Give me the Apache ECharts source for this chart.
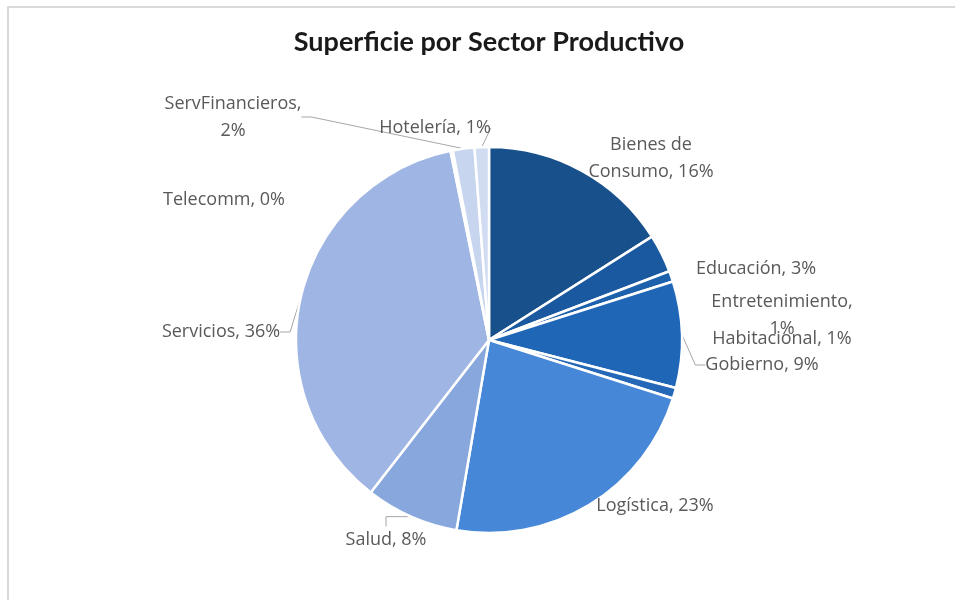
<!DOCTYPE html>
<html>
<head>
<meta charset="utf-8">
<script src="https://cdn.jsdelivr.net/npm/echarts@6/dist/echarts.min.js"></script>
<style>
html,body{margin:0;padding:0;background:#fff;}
#chart{width:955px;height:600px;}
</style>
</head>
<body>
<div id="chart"></div>
<script>
const titleText = 'Superficie por Sector Productivo';
const categories = ['Bienes de Consumo','Educación','Entretenimiento','Gobierno','Habitacional','Logística','Salud','Servicios','Telecomm','ServFinancieros','Hotelería'];
const values = [16.0, 3.2, 0.9, 8.9, 0.9, 22.8, 7.8, 36.3, 0.2, 1.8, 1.2];
const colors = ['#17508b','#1a599f','#1d60ab','#1f67b6','#2468b7','#4787d7','#88a8dd','#9fb5e3','#b9c9ea','#c8d5ef','#d1dcf2'];

const labelSpots = {
  'Bienes de Consumo': [651, 158],
  'Educación': [756, 269],
  'Entretenimiento': [782, 315],
  'Habitacional': [782, 339],
  'Gobierno': [762, 365],
  'Logística': [655, 506],
  'Salud': [386, 540],
  'Servicios': [221, 332],
  'Telecomm': [224, 200],
  'ServFinancieros': [233, 117],
  'Hotelería': [435, 128]
};
const withLine = ['ServFinancieros','Hotelería','Servicios','Salud','Gobierno'];
const breakAfter = {'Bienes de Consumo':'Bienes de','Entretenimiento':'Entretenimiento,','ServFinancieros':'ServFinancieros,'};

const data = categories.map((n,i)=>({
  name:n, value:values[i],
  itemStyle:{color:colors[i]},
  labelLine:{show: withLine.indexOf(n) >= 0}
}));

const chart = echarts.init(document.getElementById('chart'));
chart.setOption({
  animation:false,
  graphic:[{type:'rect', shape:{x:8,y:7,width:1000,height:700}, style:{fill:'none', stroke:'#d9d9d9', lineWidth:2}}],
  title:{text:titleText, left:484, top:24, textAlign:'center',
    textStyle:{fontFamily:'Lato', fontWeight:'bold', fontSize:27, color:'#1a1a1a'}},
  series:[{
    type:'pie',
    center:[489,340],
    radius:193,
    startAngle:90,
    clockwise:true,
    avoidLabelOverlap:false,
    data:data,
    itemStyle:{borderColor:'#ffffff', borderWidth:2.5},
    label:{
      show:true, position:'outside', color:'#595959',
      fontFamily:'Open Sans', fontSize:18, lineHeight:27, align:'center',
      formatter:function(p){
        let t = p.name + ', ' + Math.round(p.percent) + '%';
        const b = breakAfter[p.name];
        if (b) t = t.replace(b + ' ', b + '\n');
        return t;
      }
    },
    labelLine:{length:10, length2:10, lineStyle:{color:'#a6a6a6', width:1}},
    emphasis:{disabled:true}
  }]
});
chart.setOption({
  series:[{
    labelLayout:function(params){
      const name = categories[params.dataIndex];
      const s = labelSpots[name];
      return {x:s[0], y:s[1], align:'center', verticalAlign:'middle'};
    }
  }]
});
</script>
</body>
</html>
